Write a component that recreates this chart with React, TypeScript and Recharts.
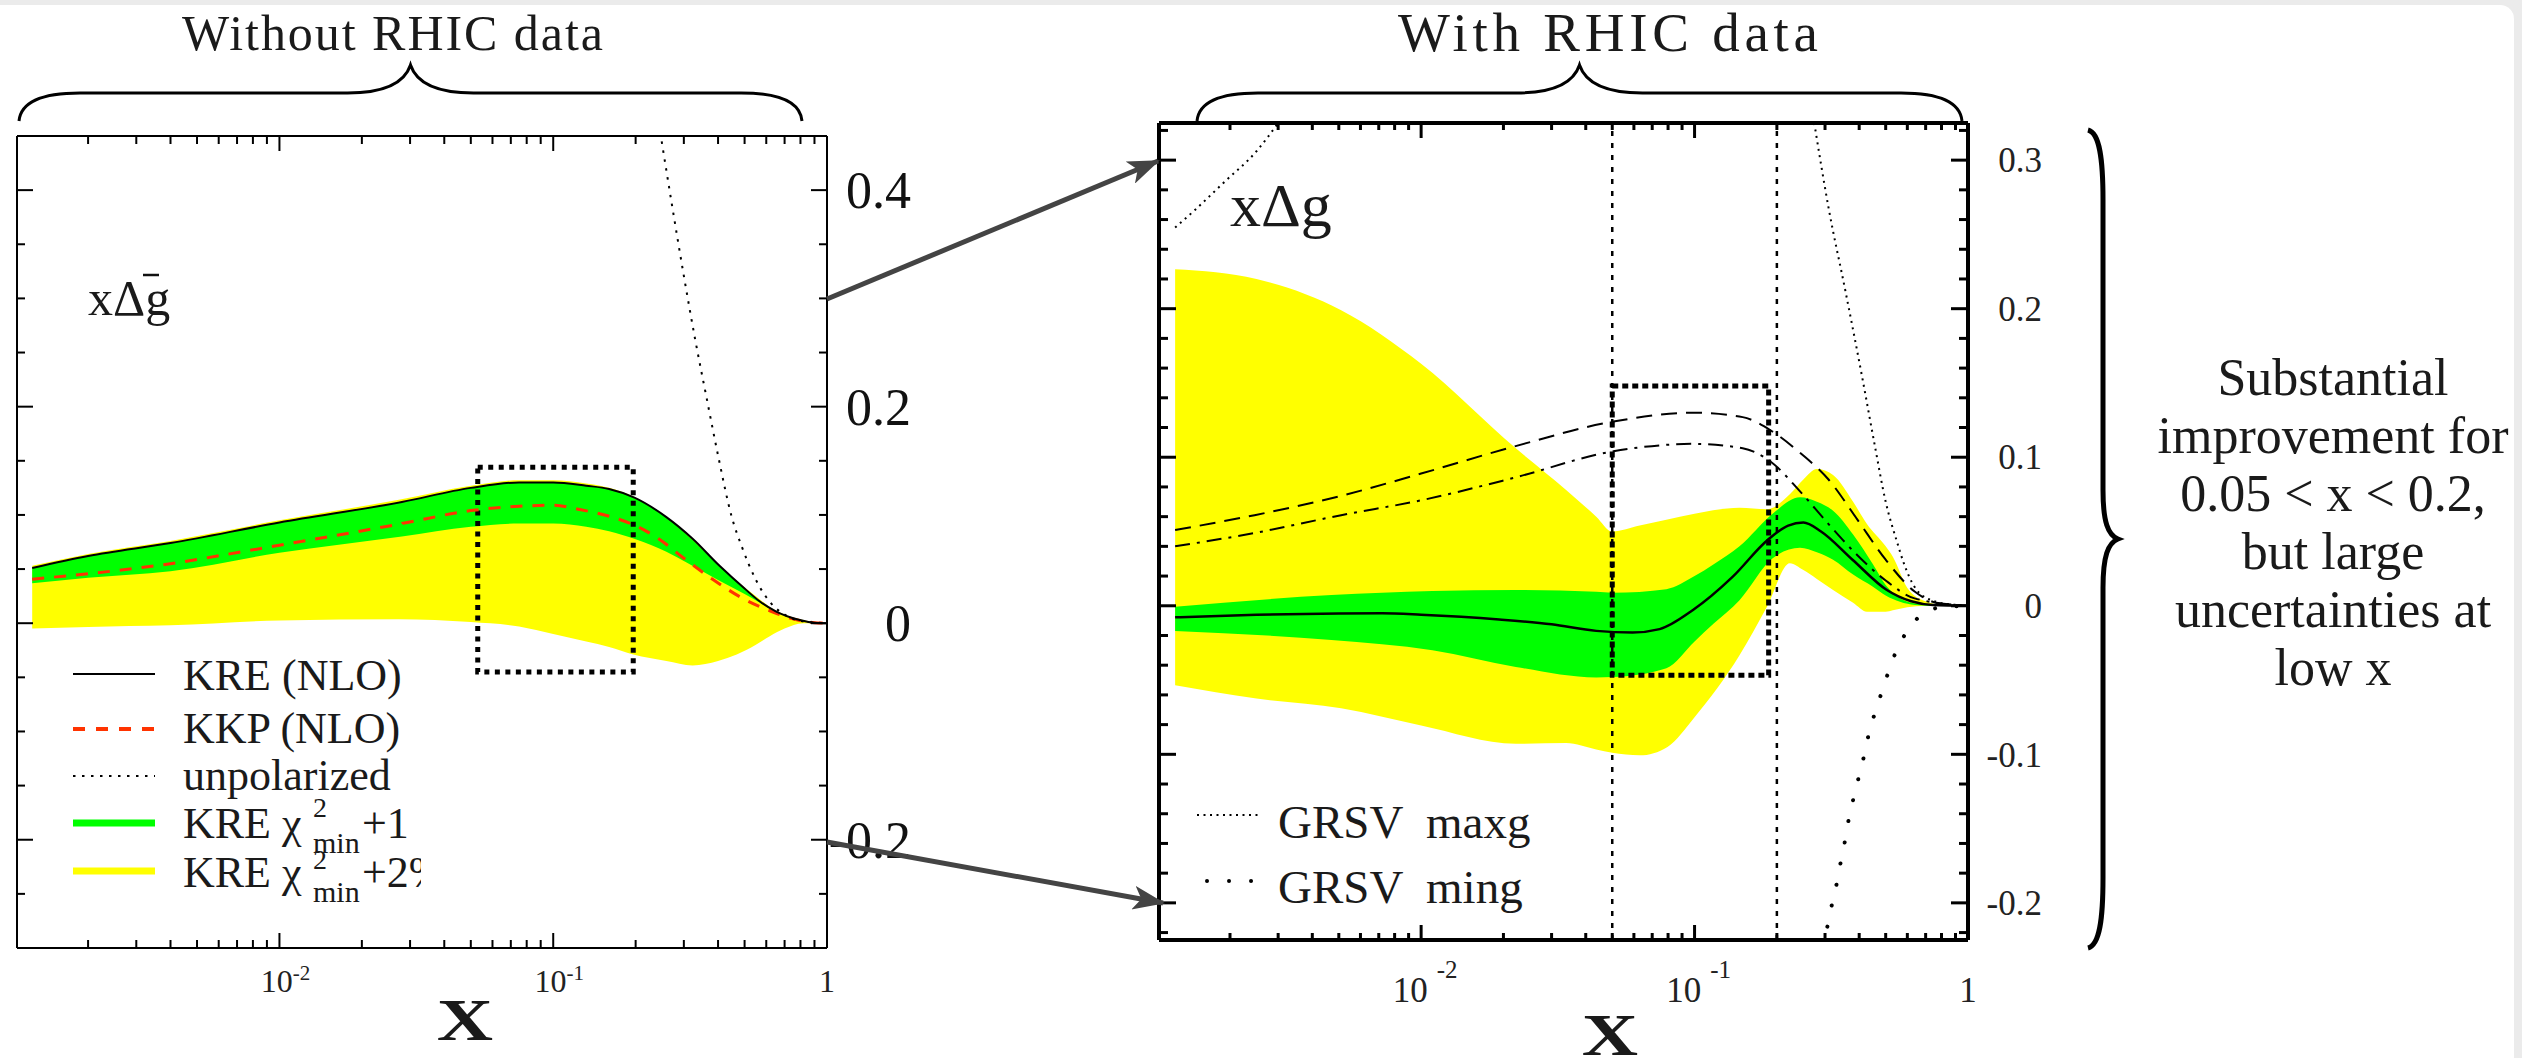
import React from 'react';
import { ComposedChart, Area, Line, XAxis, YAxis, ReferenceArea, ReferenceLine } from 'recharts';

const FONT = 'Liberation Serif, Times New Roman, serif';

// shared log x axis
const X_DOMAIN: [number, number] = [0.0011, 1];
const X_MAJOR = [0.01, 0.1, 1];
const X_MINOR = [
  0.002, 0.003, 0.004, 0.005, 0.006, 0.007, 0.008, 0.009,
  0.02, 0.03, 0.04, 0.05, 0.06, 0.07, 0.08, 0.09,
  0.2, 0.3, 0.4, 0.5, 0.6, 0.7, 0.8, 0.9,
];
const X_TICKS = [...X_MINOR, ...X_MAJOR].sort((a, b) => a - b);
const X_BASE = ['10', '10', '1'];
const X_EXP = ['-2', '-1', ''];

// left panel (without RHIC data)
const LY_DOMAIN: [number, number] = [-0.3, 0.45];
const LY_MAJOR = [-0.2, 0, 0.2, 0.4];
const LY_LABELS = ['-0.2', '0', '0.2', '0.4'];
const LY_MINOR = [-0.25, -0.15, -0.1, -0.05, 0.05, 0.1, 0.15, 0.25, 0.3, 0.35];
const LY_TICKS = [...LY_MINOR, ...LY_MAJOR].sort((a, b) => a - b);

const L_YELLOW = [
  { x: 0.00125, band: [-0.005, 0.053] },
  { x: 0.002, band: [-0.0035, 0.064] },
  { x: 0.004, band: [-0.002, 0.076] },
  { x: 0.01, band: [0.0025, 0.095] },
  { x: 0.0273, band: [0.0037, 0.114] },
  { x: 0.05, band: [0.001, 0.127] },
  { x: 0.075, band: [-0.003, 0.132] },
  { x: 0.1, band: [-0.01, 0.132] },
  { x: 0.132, band: [-0.017, 0.129] },
  { x: 0.16, band: [-0.022, 0.125] },
  { x: 0.196, band: [-0.029, 0.117] },
  { x: 0.259, band: [-0.035, 0.098] },
  { x: 0.323, band: [-0.039, 0.078] },
  { x: 0.4, band: [-0.035, 0.054] },
  { x: 0.468, band: [-0.029, 0.039] },
  { x: 0.55, band: [-0.02, 0.025] },
  { x: 0.618, band: [-0.012, 0.015] },
  { x: 0.7, band: [-0.005, 0.008] },
  { x: 0.817, band: [0, 0.003] },
  { x: 1, band: [0, 0] },
];

const L_GREEN = [
  { x: 0.00125, band: [0.037, 0.051] },
  { x: 0.002, band: [0.042, 0.062] },
  { x: 0.004, band: [0.048, 0.074] },
  { x: 0.01, band: [0.065, 0.093] },
  { x: 0.028, band: [0.08, 0.112] },
  { x: 0.05, band: [0.089, 0.125] },
  { x: 0.075, band: [0.092, 0.13] },
  { x: 0.1, band: [0.092, 0.13] },
  { x: 0.132, band: [0.089, 0.127] },
  { x: 0.16, band: [0.085, 0.124] },
  { x: 0.2, band: [0.0776, 0.115] },
  { x: 0.259, band: [0.066, 0.098] },
  { x: 0.307, band: [0.056, 0.082] },
  { x: 0.4, band: [0.04, 0.054] },
  { x: 0.5, band: [0.027, 0.032] },
  { x: 0.569, band: [0.019, 0.02] },
  { x: 0.65, band: [0.0105, 0.011] },
  { x: 0.776, band: [0.0035, 0.0037] },
  { x: 0.9, band: [0.0005, 0.0005] },
  { x: 1, band: [0, 0] },
];

const L_KRE = [
  { x: 0.00125, y: 0.051 }, { x: 0.002, y: 0.062 }, { x: 0.004, y: 0.074 },
  { x: 0.01, y: 0.093 }, { x: 0.028, y: 0.112 }, { x: 0.05, y: 0.125 },
  { x: 0.075, y: 0.13 }, { x: 0.1, y: 0.13 }, { x: 0.132, y: 0.127 },
  { x: 0.16, y: 0.124 }, { x: 0.198, y: 0.116 }, { x: 0.259, y: 0.098 },
  { x: 0.323, y: 0.078 }, { x: 0.405, y: 0.053 }, { x: 0.5, y: 0.032 },
  { x: 0.569, y: 0.02 }, { x: 0.65, y: 0.011 }, { x: 0.776, y: 0.0037 },
  { x: 0.9, y: 0.0005 }, { x: 1, y: 0 },
];

const L_KKP = [
  { x: 0.00125, y: 0.0406 }, { x: 0.004, y: 0.055 }, { x: 0.009, y: 0.07 },
  { x: 0.028, y: 0.092 }, { x: 0.05, y: 0.104 }, { x: 0.075, y: 0.108 },
  { x: 0.1, y: 0.109 }, { x: 0.125, y: 0.105 }, { x: 0.164, y: 0.098 },
  { x: 0.2, y: 0.09 }, { x: 0.244, y: 0.0776 }, { x: 0.3, y: 0.06 },
  { x: 0.382, y: 0.0406 }, { x: 0.5, y: 0.022 }, { x: 0.618, y: 0.0115 },
  { x: 0.75, y: 0.004 }, { x: 0.9, y: 0.0005 }, { x: 1, y: 0 },
];

const L_UNPOL = [
  { x: 0.249, y: 0.445 }, { x: 0.27, y: 0.39 }, { x: 0.2985, y: 0.324 },
  { x: 0.33, y: 0.262 }, { x: 0.364, y: 0.207 }, { x: 0.4, y: 0.155 },
  { x: 0.449, y: 0.098 }, { x: 0.488, y: 0.071 }, { x: 0.55, y: 0.04 },
  { x: 0.637, y: 0.016 }, { x: 0.7, y: 0.008 }, { x: 0.8, y: 0.002 }, { x: 1, y: 0 },
];

const L_BOX = { x1: 0.053, x2: 0.196, y1: -0.045, y2: 0.144 };

// right panel (with RHIC data)
const RY_DOMAIN: [number, number] = [-0.225, 0.325];
const RY_MAJOR = [-0.2, -0.1, 0, 0.1, 0.2, 0.3];
const RY_LABELS = ['-0.2', '-0.1', '0', '0.1', '0.2', '0.3'];
const RY_MINOR = [
  -0.22, -0.18, -0.16, -0.14, -0.12, -0.08, -0.06, -0.04, -0.02,
  0.02, 0.04, 0.06, 0.08, 0.12, 0.14, 0.16, 0.18, 0.22, 0.24, 0.26, 0.28, 0.32,
];
const RY_TICKS = [...RY_MINOR, ...RY_MAJOR].sort((a, b) => a - b);

const R_YELLOW = [
  { x: 0.00126, band: [-0.0535, 0.2266] },
  { x: 0.0025, band: [-0.0625, 0.22] },
  { x: 0.0051, band: [-0.069, 0.199] },
  { x: 0.01, band: [-0.0806, 0.163] },
  { x: 0.0222, band: [-0.0929, 0.106] },
  { x: 0.0339, band: [-0.0924, 0.078] },
  { x: 0.0437, band: [-0.0967, 0.06] },
  { x: 0.05, band: [-0.099, 0.05] },
  { x: 0.063, band: [-0.1007, 0.054] },
  { x: 0.0796, band: [-0.095, 0.058] },
  { x: 0.1, band: [-0.075, 0.062] },
  { x: 0.146, band: [-0.0333, 0.066] },
  { x: 0.184, band: [-0.0007, 0.065] },
  { x: 0.223, band: [0.0286, 0.075] },
  { x: 0.25, band: [0.024, 0.085] },
  { x: 0.28, band: [0.018, 0.092] },
  { x: 0.321, band: [0.0106, 0.088] },
  { x: 0.38, band: [0.002, 0.07] },
  { x: 0.427, band: [-0.004, 0.055] },
  { x: 0.5, band: [-0.004, 0.04] },
  { x: 0.531, band: [-0.003, 0.033] },
  { x: 0.6, band: [-0.001, 0.012] },
  { x: 0.7, band: [0, 0.003] },
  { x: 0.85, band: [0, 0] },
  { x: 1, band: [0, 0] },
];

const R_GREEN = [
  { x: 0.00126, band: [-0.0169, -0.0007] },
  { x: 0.0047, band: [-0.0231, 0.0072] },
  { x: 0.011, band: [-0.0299, 0.01] },
  { x: 0.0222, band: [-0.0412, 0.0106] },
  { x: 0.0437, band: [-0.0483, 0.0094] },
  { x: 0.05, band: [-0.048, 0.0088] },
  { x: 0.0789, band: [-0.042, 0.0112] },
  { x: 0.1, band: [-0.024, 0.02] },
  { x: 0.1175, band: [-0.012, 0.028] },
  { x: 0.146, band: [0.0038, 0.04] },
  { x: 0.193, band: [0.032, 0.062] },
  { x: 0.243, band: [0.039, 0.073] },
  { x: 0.28, band: [0.036, 0.07] },
  { x: 0.321, band: [0.031, 0.064] },
  { x: 0.38, band: [0.021, 0.048] },
  { x: 0.449, band: [0.0128, 0.028] },
  { x: 0.5, band: [0.007, 0.014] },
  { x: 0.564, band: [0.0027, 0.005] },
  { x: 0.64, band: [0.0006, 0.0015] },
  { x: 0.8, band: [0, 0.0003] },
  { x: 1, band: [0, 0] },
];

const R_CENTRAL = [
  { x: 0.00126, y: -0.0078 }, { x: 0.0025, y: -0.006 }, { x: 0.005, y: -0.0052 },
  { x: 0.0072, y: -0.0051 }, { x: 0.01, y: -0.006 }, { x: 0.0193, y: -0.0092 },
  { x: 0.03, y: -0.0125 }, { x: 0.0437, y: -0.0169 }, { x: 0.0593, y: -0.018 },
  { x: 0.0745, y: -0.0157 }, { x: 0.0984, y: -0.003 }, { x: 0.138, y: 0.0196 },
  { x: 0.185, y: 0.0443 }, { x: 0.22, y: 0.054 }, { x: 0.25, y: 0.056 },
  { x: 0.29, y: 0.05 }, { x: 0.379, y: 0.0308 }, { x: 0.505, y: 0.0106 },
  { x: 0.62, y: 0.003 }, { x: 0.745, y: 0.0005 }, { x: 1, y: 0 },
];

const R_DASHED = [
  { x: 0.00126, y: 0.051 }, { x: 0.00246, y: 0.061 }, { x: 0.0051, y: 0.074 },
  { x: 0.01, y: 0.089 }, { x: 0.0217, y: 0.107 }, { x: 0.0505, y: 0.124 },
  { x: 0.1, y: 0.13 }, { x: 0.15, y: 0.127 }, { x: 0.19, y: 0.118 },
  { x: 0.243, y: 0.103 }, { x: 0.309, y: 0.085 }, { x: 0.394, y: 0.058 },
  { x: 0.5, y: 0.031 }, { x: 0.638, y: 0.0096 }, { x: 0.81, y: 0.001 }, { x: 1, y: 0 },
];

const R_DASHDOT = [
  { x: 0.00126, y: 0.04 }, { x: 0.00246, y: 0.049 }, { x: 0.0051, y: 0.061 },
  { x: 0.01, y: 0.071 }, { x: 0.0217, y: 0.086 }, { x: 0.0505, y: 0.104 },
  { x: 0.1, y: 0.109 }, { x: 0.15, y: 0.106 }, { x: 0.19, y: 0.097 },
  { x: 0.243, y: 0.077 }, { x: 0.309, y: 0.055 }, { x: 0.394, y: 0.034 },
  { x: 0.5, y: 0.017 }, { x: 0.638, y: 0.005 }, { x: 1, y: 0 },
];

// GRSV maxg leaves the frame between these two pieces
const R_MAXG_LOWX = [
  { x: 0.00126, y: 0.2546 }, { x: 0.0015, y: 0.267 }, { x: 0.0019, y: 0.285 },
  { x: 0.0025, y: 0.306 }, { x: 0.003, y: 0.325 },
];
const R_MAXG_HIGHX = [
  { x: 0.274, y: 0.325 }, { x: 0.309, y: 0.268 }, { x: 0.357, y: 0.211 },
  { x: 0.413, y: 0.151 }, { x: 0.455, y: 0.109 }, { x: 0.5, y: 0.07 },
  { x: 0.55, y: 0.043 }, { x: 0.579, y: 0.03 }, { x: 0.638, y: 0.0126 },
  { x: 0.738, y: 0.0036 }, { x: 0.9, y: 0.0006 }, { x: 1, y: 0 },
];

const R_MING = [
  { x: 0.306, y: -0.216 }, { x: 0.318, y: -0.201 }, { x: 0.331, y: -0.187 },
  { x: 0.342, y: -0.173 }, { x: 0.355, y: -0.158 }, { x: 0.366, y: -0.144 },
  { x: 0.382, y: -0.129 }, { x: 0.399, y: -0.115 }, { x: 0.418, y: -0.1 },
  { x: 0.434, y: -0.086 }, { x: 0.457, y: -0.072 }, { x: 0.484, y: -0.058 },
  { x: 0.513, y: -0.044 }, { x: 0.546, y: -0.0306 }, { x: 0.597, y: -0.0175 },
  { x: 0.667, y: -0.007 }, { x: 0.8, y: -0.001 }, { x: 1, y: 0 },
];

const R_CUTS = [0.05, 0.2];
const R_BOX = { x1: 0.05, x2: 0.1866, y1: -0.0468, y2: 0.148 };

const NOTE_LINES = ['Substantial', 'improvement for', '0.05 < x < 0.2,', 'but large', 'uncertainties at', 'low x'];

type LabelFn = (v: number, x: number, y: number) => React.ReactNode;

// inward ticks drawn from the axis line, optional label outside
function edgeTicks(side: 'bottom' | 'top' | 'left' | 'right', majors: number[], majorLen: number, minorLen: number, w: number, label?: LabelFn) {
  return (props: any) => {
    const { x, y, payload } = props;
    const v = payload.value;
    const len = majors.includes(v) ? majorLen : minorLen;
    let x2 = x;
    let y2 = y;
    if (side === 'bottom') y2 = y - len;
    if (side === 'top') y2 = y + len;
    if (side === 'left') x2 = x + len;
    if (side === 'right') x2 = x - len;
    return (
      <g>
        <line x1={x} y1={y} x2={x2} y2={y2} stroke="#000" strokeWidth={w} />
        {label ? label(v, x, y) : null}
      </g>
    );
  };
}

const leftXLabel: LabelFn = (v, x, y) => {
  const i = X_MAJOR.indexOf(v);
  if (i < 0) return null;
  if (!X_EXP[i]) return <text x={x} y={y + 44} textAnchor="middle" fontSize={32} fontFamily={FONT} fill="#222">{X_BASE[i]}</text>;
  return (
    <text x={x + 6} y={y + 44} textAnchor="middle" fontSize={32} fontFamily={FONT} fill="#222">
      {X_BASE[i]}<tspan fontSize={21} dy={-12}>{X_EXP[i]}</tspan>
    </text>
  );
};

const rightXLabel: LabelFn = (v, x, y) => {
  const i = X_MAJOR.indexOf(v);
  if (i < 0) return null;
  if (!X_EXP[i]) return <text x={x} y={y + 62} textAnchor="middle" fontSize={35} fontFamily={FONT} fill="#222">{X_BASE[i]}</text>;
  return (
    <text x={x + 4} y={y + 62} textAnchor="middle" fontSize={35} fontFamily={FONT} fill="#222">
      {X_BASE[i]}<tspan fontSize={25} dx={9} dy={-24}>{X_EXP[i]}</tspan>
    </text>
  );
};

const leftYLabel: LabelFn = (v, x, y) => {
  const i = LY_MAJOR.indexOf(v);
  if (i < 0) return null;
  return <text x={x + 84} y={y} dy="0.35em" textAnchor="end" fontSize={52} fontFamily={FONT} fill="#111">{LY_LABELS[i]}</text>;
};

const rightYLabel: LabelFn = (v, x, y) => {
  const i = RY_MAJOR.indexOf(v);
  if (i < 0) return null;
  return <text x={x + 74} y={y} dy="0.35em" textAnchor="end" fontSize={35} fontFamily={FONT} fill="#222">{RY_LABELS[i]}</text>;
};

// axes are 1px thick so recharts still draws them; ticks point inwards
const axisCommon = { tickSize: 0, tickMargin: 0, tickLine: false, interval: 0 as const, allowDataOverflow: true };

function LeftPanel() {
  const frame = { stroke: '#000', strokeWidth: 2 };
  return (
    <ComposedChart width={1000} height={1058} margin={{ top: 135, left: 16, right: 172, bottom: 109 }}>
      <XAxis type="number" dataKey="x" scale="log" domain={X_DOMAIN} ticks={X_TICKS} height={1} axisLine={frame}
        tick={edgeTicks('bottom', X_MAJOR, 15, 8, 2, leftXLabel)} {...axisCommon} />
      <XAxis xAxisId="top" orientation="top" type="number" dataKey="x" scale="log" domain={X_DOMAIN} ticks={X_TICKS} height={1} axisLine={frame}
        tick={edgeTicks('top', X_MAJOR, 15, 8, 2)} {...axisCommon} />
      <YAxis type="number" domain={LY_DOMAIN} ticks={LY_TICKS} width={1} axisLine={frame}
        tick={edgeTicks('left', LY_MAJOR, 16, 8, 2)} {...axisCommon} />
      <YAxis yAxisId="right" orientation="right" type="number" domain={LY_DOMAIN} ticks={LY_TICKS} width={1} axisLine={frame}
        tick={edgeTicks('right', LY_MAJOR, 16, 8, 2, leftYLabel)} {...axisCommon} />
      <Area data={L_YELLOW} dataKey="band" type="monotone" fill="#ffff00" fillOpacity={1} stroke="none" dot={false} activeDot={false} isAnimationActive={false} />
      <Area data={L_GREEN} dataKey="band" type="monotone" fill="#00ff00" fillOpacity={1} stroke="none" dot={false} activeDot={false} isAnimationActive={false} />
      <Line data={L_KKP} dataKey="y" type="monotone" stroke="#ff3300" strokeWidth={3} strokeDasharray="12 10" dot={false} activeDot={false} isAnimationActive={false} />
      <Line data={L_KRE} dataKey="y" type="monotone" stroke="#000" strokeWidth={2} dot={false} activeDot={false} isAnimationActive={false} />
      <Line data={L_UNPOL} dataKey="y" type="monotone" stroke="#000" strokeWidth={2} strokeDasharray="2.5 6.5" dot={false} activeDot={false} isAnimationActive={false} />
      <ReferenceArea x1={L_BOX.x1} x2={L_BOX.x2} y1={L_BOX.y1} y2={L_BOX.y2} fill="none" stroke="#000" strokeWidth={5} strokeDasharray="5 5.5" ifOverflow="visible" />
    </ComposedChart>
  );
}

function RightPanel() {
  const frame = { stroke: '#000', strokeWidth: 4 };
  return (
    <ComposedChart width={1100} height={1058} margin={{ top: 122, left: 58, right: 231, bottom: 117 }}>
      <XAxis type="number" dataKey="x" scale="log" domain={X_DOMAIN} ticks={X_TICKS} height={1} axisLine={frame}
        tick={edgeTicks('bottom', X_MAJOR, 15, 7, 3, rightXLabel)} {...axisCommon} />
      <XAxis xAxisId="top" orientation="top" type="number" dataKey="x" scale="log" domain={X_DOMAIN} ticks={X_TICKS} height={1} axisLine={frame}
        tick={edgeTicks('top', X_MAJOR, 15, 7, 3)} {...axisCommon} />
      <YAxis type="number" domain={RY_DOMAIN} ticks={RY_TICKS} width={1} axisLine={frame}
        tick={edgeTicks('left', RY_MAJOR, 17, 9, 3)} {...axisCommon} />
      <YAxis yAxisId="right" orientation="right" type="number" domain={RY_DOMAIN} ticks={RY_TICKS} width={1} axisLine={frame}
        tick={edgeTicks('right', RY_MAJOR, 17, 9, 3, rightYLabel)} {...axisCommon} />
      <Area data={R_YELLOW} dataKey="band" type="monotone" fill="#ffff00" fillOpacity={1} stroke="none" dot={false} activeDot={false} isAnimationActive={false} />
      <Area data={R_GREEN} dataKey="band" type="monotone" fill="#00ff00" fillOpacity={1} stroke="none" dot={false} activeDot={false} isAnimationActive={false} />
      <Line data={R_DASHED} dataKey="y" type="monotone" stroke="#000" strokeWidth={2} strokeDasharray="16 9" dot={false} activeDot={false} isAnimationActive={false} />
      <Line data={R_DASHDOT} dataKey="y" type="monotone" stroke="#000" strokeWidth={2} strokeDasharray="15 7 3 7" dot={false} activeDot={false} isAnimationActive={false} />
      <Line data={R_MAXG_LOWX} dataKey="y" type="monotone" stroke="#000" strokeWidth={2} strokeDasharray="2 4.5" dot={false} activeDot={false} isAnimationActive={false} />
      <Line data={R_MAXG_HIGHX} dataKey="y" type="monotone" stroke="#000" strokeWidth={2} strokeDasharray="2 4.5" dot={false} activeDot={false} isAnimationActive={false} />
      <Line data={R_MING} dataKey="y" type="monotone" stroke="#000" strokeWidth={4} strokeLinecap="round" strokeDasharray="0.01 21.5" dot={false} activeDot={false} isAnimationActive={false} />
      <Line data={R_CENTRAL} dataKey="y" type="monotone" stroke="#000" strokeWidth={2.5} dot={false} activeDot={false} isAnimationActive={false} />
      {R_CUTS.map((c) => (
        <ReferenceLine key={c} x={c} stroke="#000" strokeWidth={2.5} strokeDasharray="5 7" />
      ))}
      <ReferenceArea x1={R_BOX.x1} x2={R_BOX.x2} y1={R_BOX.y1} y2={R_BOX.y2} fill="none" stroke="#000" strokeWidth={5} strokeDasharray="6 4" ifOverflow="visible" />
    </ComposedChart>
  );
}

function Overlay() {
  const t = { fontFamily: FONT, fill: '#1a1a1a' };
  const brace = (x0: number, x1: number) => {
    const m = (x0 + x1) / 2;
    return `M${x0},121 C${x0 + 2},100 ${x0 + 26},93 ${x0 + 61},93 L${m - 63},93 C${m - 26},93 ${m - 6},83 ${m},65 C${m + 6},83 ${m + 26},93 ${m + 63},93 L${x1 - 61},93 C${x1 - 26},93 ${x1 - 2},100 ${x1},121`;
  };
  return (
    <svg width={2522} height={1058} style={{ position: 'absolute', left: 0, top: 0, pointerEvents: 'none' }}>
      <defs>
        <marker id="head" markerUnits="userSpaceOnUse" markerWidth={32} markerHeight={24} refX={30} refY={12} orient="auto">
          <path d="M0,0 L32,12 L0,24 L8,12 Z" fill="#444" />
        </marker>
        <clipPath id="legclip">
          <rect x={0} y={840} width={421} height={80} />
        </clipPath>
      </defs>

      {/* titles and braces */}
      <text x={182} y={50} fontSize={50} textLength={421} {...t}>Without RHIC data</text>
      <path d={brace(19, 802)} fill="none" stroke="#000" strokeWidth={3} />
      <text x={1398} y={51} fontSize={55} textLength={420} {...t}>With RHIC data</text>
      <path d={brace(1197, 1962)} fill="none" stroke="#000" strokeWidth={3} />

      {/* zoom arrows */}
      <line x1={827} y1={299} x2={1158} y2={161} stroke="#444" strokeWidth={5} markerEnd="url(#head)" />
      <line x1={827} y1={842} x2={1163} y2={903} stroke="#444" strokeWidth={5} markerEnd="url(#head)" />

      {/* panel labels */}
      <text x={88} y={315} fontSize={50} {...t}>xΔg</text>
      <line x1={143} y1={275} x2={159} y2={275} stroke="#111" strokeWidth={2.5} />
      <text x={1230} y={226} fontSize={62} {...t}>xΔg</text>

      {/* left legend */}
      <line x1={73} y1={674} x2={155} y2={674} stroke="#000" strokeWidth={2} />
      <text x={183} y={690} fontSize={44} {...t}>KRE (NLO)</text>
      <line x1={73} y1={729} x2={155} y2={729} stroke="#ff3300" strokeWidth={4} strokeDasharray="12 11" />
      <text x={183} y={743} fontSize={44} {...t}>KKP (NLO)</text>
      <line x1={73} y1={776} x2={155} y2={776} stroke="#000" strokeWidth={2} strokeDasharray="2.5 6.5" />
      <text x={183} y={790} fontSize={44} {...t}>unpolarized</text>
      <line x1={73} y1={823} x2={155} y2={823} stroke="#00ff00" strokeWidth={7} />
      <text x={183} y={838} fontSize={44} {...t}>
        KRE χ<tspan x={313} y={817} fontSize={28}>2</tspan>
        <tspan x={313} y={853} fontSize={30}>min</tspan>
        <tspan x={362} y={838}>+1</tspan>
      </text>
      <line x1={73} y1={871} x2={155} y2={871} stroke="#ffff00" strokeWidth={7} />
      <text x={183} y={887} fontSize={44} clipPath="url(#legclip)" {...t}>
        KRE χ<tspan x={313} y={869} fontSize={28}>2</tspan>
        <tspan x={313} y={902} fontSize={30}>min</tspan>
        <tspan x={362} y={887}>+2%</tspan>
      </text>

      {/* right legend */}
      <line x1={1197} y1={815} x2={1258} y2={815} stroke="#000" strokeWidth={2} strokeDasharray="2 4.5" />
      <text x={1278} y={838} fontSize={47} style={{ whiteSpace: 'pre' }} {...t}>GRSV  maxg</text>
      <line x1={1207} y1={881} x2={1252} y2={881} stroke="#000" strokeWidth={4} strokeLinecap="round" strokeDasharray="0.01 22" />
      <text x={1278} y={903} fontSize={47} style={{ whiteSpace: 'pre' }} {...t}>GRSV  ming</text>

      {/* axis titles */}
      <text transform="translate(465,1040) scale(1.3,1)" textAnchor="middle" fontSize={60} fontWeight="bold" {...t}>X</text>
      <text transform="translate(1610,1055) scale(1.3,1)" textAnchor="middle" fontSize={60} fontWeight="bold" {...t}>X</text>

      {/* vertical brace + note */}
      <path d="M2088,130 C2100,133 2103,160 2103,200 L2103,490 C2103,522 2108,535 2118,539 C2108,543 2103,556 2103,588 L2103,878 C2103,918 2100,945 2088,948"
        fill="none" stroke="#000" strokeWidth={5} />
      {NOTE_LINES.map((s, i) => (
        <text key={s} x={2333} y={395 + i * 58} fontSize={52} textAnchor="middle" {...t}>{s}</text>
      ))}
    </svg>
  );
}

export default function App() {
  return (
    <div style={{ position: 'absolute', left: 0, top: 0, width: 2522, height: 1058, background: '#ebebeb', overflow: 'hidden' }}>
      <div style={{ position: 'absolute', left: 0, top: 5, width: 2514, height: 1053, background: '#fff', borderTopRightRadius: 14 }} />
      <div style={{ position: 'absolute', left: 0, top: 0 }}>
        <LeftPanel />
      </div>
      <div style={{ position: 'absolute', left: 1100, top: 0 }}>
        <RightPanel />
      </div>
      <Overlay />
    </div>
  );
}
